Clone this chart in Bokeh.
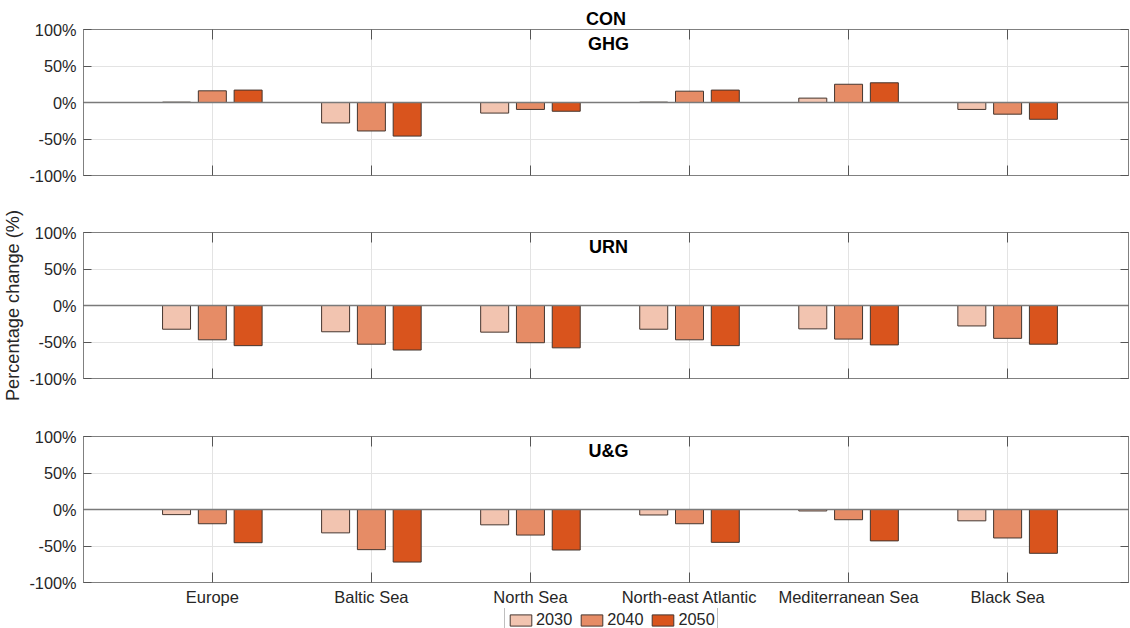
import numpy as np
from bokeh.plotting import figure
from bokeh.models import (FixedTicker, LinearAxis, Range1d, Span, Label, Legend, LegendItem,
                          CustomLabelingPolicy)
from bokeh.layouts import column
from bokeh.embed import file_html
from bokeh.resources import INLINE

# ---------------- data ----------------
regions = ["Europe", "Baltic Sea", "North Sea", "North-east Atlantic", "Mediterranean Sea", "Black Sea"]
years = ["2030", "2040", "2050"]

con_ghg_2030 = [0.5, -28, -14.5, 0.5, 6, -9.5]
con_ghg_2040 = [16, -39, -9.5, 15.5, 25, -16]
con_ghg_2050 = [17, -46, -12, 17, 27, -23]

urn_2030 = [-32.5, -36, -36.5, -32.5, -32, -28]
urn_2040 = [-47, -53, -51, -47, -46, -45]
urn_2050 = [-55, -61, -58, -55, -54, -53]

ug_2030 = [-7, -32, -21, -7.5, -2, -15.5]
ug_2040 = [-19.5, -55, -35, -19.5, -14, -39]
ug_2050 = [-45.5, -72, -55.5, -45, -43, -60]

y_ticks = [-100, -50, 0, 50, 100]
y_tick_labels = ["-100%", "-50%", "0%", "50%", "100%"]

panel_labels = ["GHG", "URN", "U&G"]
top_title = "CON"
y_axis_title = "Percentage change (%)"

# ---------------- style ----------------
colors = ["#F2C4B0", "#E68C66", "#D9541D"]
edge = "#45362f"
FONT = "Liberation Sans"
TXT = "#262626"
AX = "#808080"
x_idx = np.arange(1, len(regions) + 1)
offsets = [-0.225, 0.0, 0.225]
bar_w = 0.176
x_tick_overrides = {int(i): r for i, r in zip(x_idx, regions)}
y_tick_overrides = {t: l for t, l in zip(y_ticks, y_tick_labels)}

NO_LABELS = """
try { for (const i of Array.from(indices)) { indices.unset(i) } } catch (e) {}
return indices
"""


def style_hidden_axis(ax, tick_in):
    ax.major_label_text_font_size = "0px"
    ax.major_label_standoff = 0
    ax.major_label_policy = CustomLabelingPolicy(code=NO_LABELS)
    ax.major_tick_in = tick_in
    ax.major_tick_out = 0
    ax.minor_tick_line_color = None
    ax.axis_line_color = AX
    ax.major_tick_line_color = "#555555"


def make_panel(height, btop, bbot, series, label, show_x, title=None, ylab=None):
    p = figure(width=1129, height=height, x_range=Range1d(0.19, 6.76), y_range=Range1d(-100, 100),
               output_backend="svg", toolbar_location=None,
               min_border_left=82, min_border_right=1, min_border_top=btop, min_border_bottom=bbot)
    p.background_fill_color = "white"
    p.border_fill_color = "white"
    p.outline_line_color = AX
    p.outline_line_width = 1

    # axes
    xa = p.xaxis[0]
    xa.ticker = FixedTicker(ticks=list(x_idx))
    xa.major_tick_in = 10
    xa.major_tick_out = 0
    xa.minor_tick_line_color = None
    xa.axis_line_color = AX
    xa.major_tick_line_color = "#555555"
    if show_x:
        xa.major_label_overrides = x_tick_overrides
        xa.major_label_text_font_size = "16.5px"
        xa.major_label_text_font = FONT
        xa.major_label_text_color = TXT
        xa.major_label_standoff = 5
    else:
        style_hidden_axis(xa, 10)

    ya = p.yaxis[0]
    ya.ticker = FixedTicker(ticks=y_ticks)
    ya.major_label_overrides = y_tick_overrides
    ya.major_label_text_font_size = "16.3px"
    ya.major_label_text_font = FONT
    ya.major_label_text_color = TXT
    ya.major_label_standoff = 7
    ya.major_tick_in = 8
    ya.major_tick_out = 0
    ya.minor_tick_line_color = None
    ya.axis_line_color = AX
    ya.major_tick_line_color = "#555555"
    if ylab:
        ya.axis_label = ylab
        ya.axis_label_text_font = FONT
        ya.axis_label_text_font_size = "18.2px"
        ya.axis_label_text_font_style = "normal"
        ya.axis_label_text_color = TXT
        ya.axis_label_standoff = 3

    top_ax = LinearAxis(ticker=FixedTicker(ticks=list(x_idx)))
    style_hidden_axis(top_ax, 10)
    p.add_layout(top_ax, "above")
    right_ax = LinearAxis(ticker=FixedTicker(ticks=y_ticks))
    style_hidden_axis(right_ax, 8)
    p.add_layout(right_ax, "right")

    p.xgrid.ticker = FixedTicker(ticks=list(x_idx))
    p.ygrid.ticker = FixedTicker(ticks=y_ticks)
    p.xgrid.grid_line_color = "#e3e3e3"
    p.ygrid.grid_line_color = "#e3e3e3"

    renderers = []
    for vals, off, c in zip(series, offsets, colors):
        r = p.vbar(x=x_idx + off, top=vals, bottom=0, width=bar_w,
                   fill_color=c, line_color=edge, line_width=1)
        renderers.append(r)

    p.add_layout(Span(location=0, dimension="width", line_color="#7a7a7a", line_width=1.5))

    p.add_layout(Label(x=3.49, y=80, text=label, text_font=FONT, text_font_size="18px",
                       text_font_style="bold", text_color="black",
                       text_align="center", text_baseline="middle"))
    if title:
        p.title.text = title
        p.title.align = "center"
        p.title.text_font = FONT
        p.title.text_font_size = "18px"
        p.title.text_font_style = "bold"
        p.title.text_color = "black"
        p.title.standoff = 1
    return p, renderers


p1, _ = make_panel(200, 29, 25, [con_ghg_2030, con_ghg_2040, con_ghg_2050], panel_labels[0], False, title=top_title)
p2, _ = make_panel(205, 32, 27, [urn_2030, urn_2040, urn_2050], panel_labels[1], False, ylab=y_axis_title)
p3, _ = make_panel(203, 31, 26, [ug_2030, ug_2040, ug_2050], panel_labels[2], True)

# legend strip: a legend-only figure below the bottom panel (its bars fall outside its ranges)
p4 = figure(width=1129, height=20, x_range=Range1d(100, 101), y_range=Range1d(100, 101),
            output_backend="svg", toolbar_location=None,
            min_border_left=0, min_border_right=1, min_border_top=0, min_border_bottom=0)
p4.axis.visible = False
p4.grid.visible = False
p4.outline_line_color = None
p4.background_fill_color = "white"
p4.border_fill_color = "white"
leg_rs = [p4.vbar(x=x_idx + off, top=vals, bottom=0, width=bar_w, fill_color=c, line_color=edge, line_width=1)
          for vals, off, c in zip([ug_2030, ug_2040, ug_2050], offsets, colors)]

legend = Legend(items=[LegendItem(label=y, renderers=[r]) for y, r in zip(years, leg_rs)],
                orientation="horizontal", location=(421, -4))
legend.label_text_font = FONT
legend.label_text_font_size = "16.3px"
legend.label_text_color = TXT
legend.glyph_width = 27
legend.glyph_height = 14
legend.label_standoff = 2
legend.label_height = 14
legend.spacing = 6
legend.padding = 2
legend.margin = 0
legend.border_line_color = AX
legend.background_fill_color = "white"
legend.background_fill_alpha = 1
p4.add_layout(legend, "center")

layout = column(p1, p2, p3, p4, spacing=0)
open("out.html", "w").write(file_html(layout, INLINE))
